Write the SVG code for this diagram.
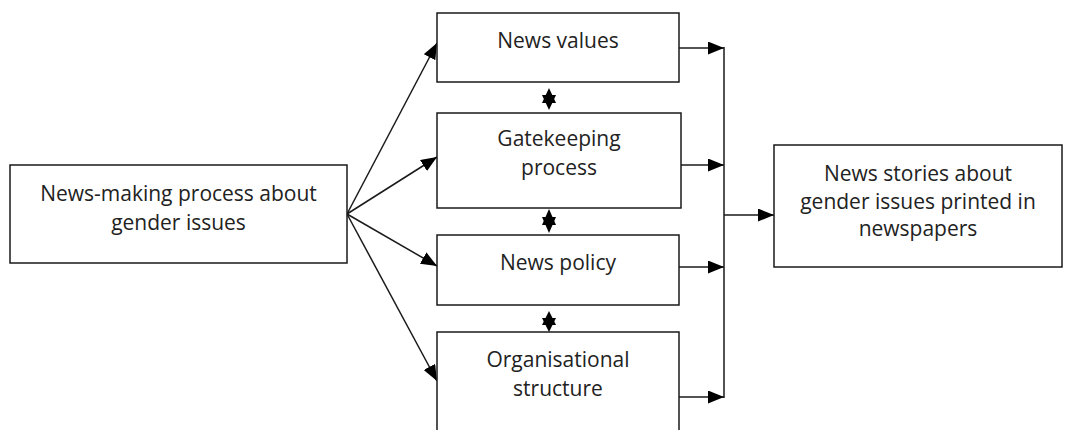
<svg xmlns="http://www.w3.org/2000/svg" width="1065" height="430" viewBox="0 0 1065 430">
<defs>
<style>
.box{fill:#fff;stroke:#1a1a1a;stroke-width:1.5}
.t{font-family:"Open Sans","Liberation Sans",sans-serif;font-size:21px;fill:#222;text-anchor:middle}
.ln{stroke:#1a1a1a;stroke-width:1.5;fill:none}
.hd{fill:#000}
</style>
<marker id="ah" markerUnits="userSpaceOnUse" markerWidth="16" markerHeight="13" refX="16" refY="6.5" orient="auto">
<path d="M0,0 L16,6.5 L0,13 z" fill="#000"/>
</marker>
</defs>
<rect width="1065" height="430" fill="#fff"/>
<g id="connectors">
<line class="ln" x1="347" y1="214" x2="437" y2="43" marker-end="url(#ah)"/>
<line class="ln" x1="347" y1="214" x2="437" y2="157" marker-end="url(#ah)"/>
<line class="ln" x1="347" y1="214" x2="437" y2="266" marker-end="url(#ah)"/>
<line class="ln" x1="347" y1="214" x2="437" y2="381" marker-end="url(#ah)"/>
<line class="ln" x1="679" y1="48" x2="724" y2="48" marker-end="url(#ah)"/>
<line class="ln" x1="681" y1="165" x2="724" y2="165" marker-end="url(#ah)"/>
<line class="ln" x1="679" y1="267" x2="724" y2="267" marker-end="url(#ah)"/>
<line class="ln" x1="679" y1="397" x2="724" y2="397" marker-end="url(#ah)"/>
<line class="ln" x1="724" y1="47" x2="724" y2="398"/>
<line class="ln" x1="724" y1="215" x2="774" y2="215" marker-end="url(#ah)"/>
<path class="hd" d="M549,88 L556,103 L542,103 z"/><path class="hd" d="M549,110 L556,95 L542,95 z"/>
<path class="hd" d="M549,209 L556,225 L542,225 z"/><path class="hd" d="M549,233 L556,217 L542,217 z"/>
<path class="hd" d="M549,311 L556,325 L542,325 z"/><path class="hd" d="M549,332 L556,318 L542,318 z"/>
</g>
<g id="n-making">
<rect class="box" x="10" y="165" width="337" height="98"/>
<text class="t" x="178.5" y="201">News-making process about</text>
<text class="t" x="178.5" y="230">gender issues</text>
</g>
<g id="n-values">
<rect class="box" x="437" y="13" width="242" height="69"/>
<text class="t" x="558" y="48">News values</text>
</g>
<g id="n-gatekeeping">
<rect class="box" x="437" y="113" width="244" height="95"/>
<text class="t" x="559" y="146">Gatekeeping</text>
<text class="t" x="559" y="175">process</text>
</g>
<g id="n-policy">
<rect class="box" x="437" y="235" width="242" height="70"/>
<text class="t" x="558" y="270">News policy</text>
</g>
<g id="n-structure">
<rect class="box" x="437" y="332" width="242" height="110"/>
<text class="t" x="558" y="367">Organisational</text>
<text class="t" x="558" y="396">structure</text>
</g>
<g id="n-stories">
<rect class="box" x="774" y="145" width="288" height="122"/>
<text class="t" x="918" y="181">News stories about</text>
<text class="t" x="918" y="209">gender issues printed in</text>
<text class="t" x="918" y="236">newspapers</text>
</g>
</svg>
